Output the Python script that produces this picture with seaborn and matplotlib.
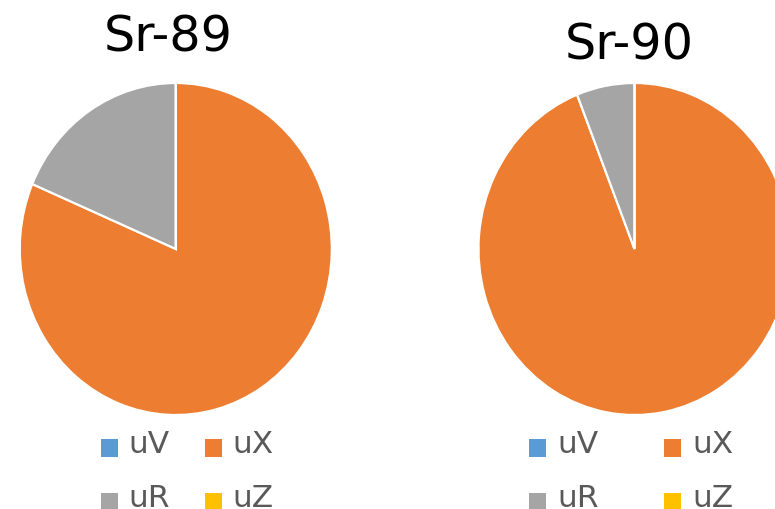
import matplotlib
matplotlib.use("Agg")
import matplotlib.pyplot as plt
from matplotlib.patches import Patch, Rectangle
from matplotlib.legend_handler import HandlerPatch
import seaborn as sns

sns.set_theme(style="white")
plt.rcParams['font.family'] = ['DejaVu Sans']

# data (share of total uncertainty)
components = ['uV', 'uX', 'uR', 'uZ']
sr89_values = [0.0, 81.4, 18.6, 0.0]
sr90_values = [0.0, 94.0, 6.0, 0.0]
titles = ['Sr-89', 'Sr-90']

colors = sns.color_palette(['#5B9BD5', '#ED7D31', '#A5A5A5', '#FFC000'])

W, H = 775, 509
fig = plt.figure(figsize=(W / 100, H / 100), dpi=100)


def px_axes(cx, cy, rx, ry):
    # axes box in pixel coords (y from top) -> figure fraction
    return fig.add_axes([(cx - rx) / W, (H - cy - ry) / H, 2 * rx / W, 2 * ry / H])


def draw_pie(ax, values):
    ax.pie(values, colors=colors, startangle=90, counterclock=False,
           wedgeprops=dict(edgecolor='white', linewidth=1.6))
    ax.set_xlim(-1, 1)
    ax.set_ylim(-1, 1)
    ax.set_aspect('auto')
    ax.axis('off')


ax1 = px_axes(175.8, 249, 156, 166)
draw_pie(ax1, sr89_values)
ax2 = px_axes(634.5, 249, 156, 166)
draw_pie(ax2, sr90_values)

fig.text(168 / W, 1 - 52 / H, titles[0], ha='center', va='baseline', fontsize=35.5, color='black')
fig.text(629.5 / W, 1 - 60 / H, titles[1], ha='center', va='baseline', fontsize=35.5, color='black')


# legend squares sit a little lower than the text centre, like in Excel
def low_square(legend, orig_handle, xdescent, ydescent, width, height, fontsize):
    return Rectangle((-xdescent, -ydescent - 4.3), width, height)


handles = [Patch(facecolor=c, edgecolor='none') for c in colors]
# order in the legend grid: row 1 uV, uX ; row 2 uR, uZ  (ncol fills by column)
order = [0, 2, 1, 3]
h = [handles[i] for i in order]
l = [components[i] for i in order]

common = dict(ncol=2, frameon=False, fontsize=22.5, handlelength=0.55, handleheight=0.55,
              handletextpad=0.35, labelspacing=0.8, labelcolor='#595959',
              borderpad=0, borderaxespad=0,
              handler_map={Patch: HandlerPatch(patch_func=low_square)})
leg1 = fig.legend(h, l, loc='upper left', bbox_to_anchor=(100.5 / W, 1 - 430 / H),
                  columnspacing=1.1, **common)
leg2 = fig.legend(h, l, loc='upper left', bbox_to_anchor=(529 / W, 1 - 430 / H),
                  columnspacing=2.1, **common)

fig.savefig('out.png', dpi=100)
